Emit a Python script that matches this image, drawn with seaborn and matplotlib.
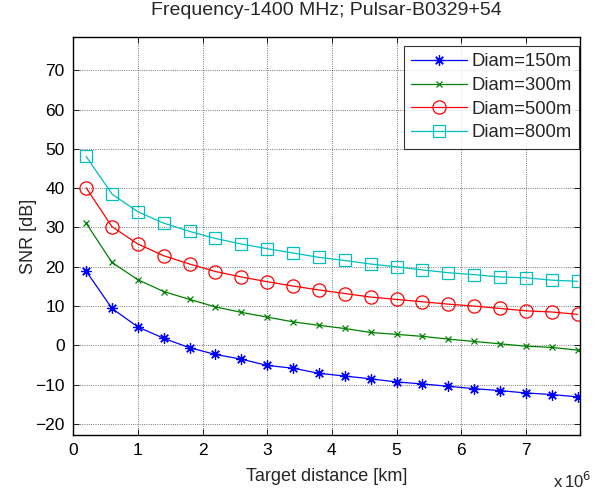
import matplotlib
matplotlib.use("Agg")
import matplotlib.pyplot as plt
import numpy as np
import pandas as pd
import seaborn as sns
from matplotlib.ticker import FuncFormatter

# data
distance_m = [0.2e6, 0.6e6, 1.0e6, 1.4e6, 1.8e6, 2.2e6, 2.6e6, 3.0e6, 3.4e6, 3.8e6,
              4.2e6, 4.6e6, 5.0e6, 5.4e6, 5.8e6, 6.2e6, 6.6e6, 7.0e6, 7.4e6, 7.8e6]
snr_150 = [18.9, 9.4, 4.7, 1.8, -0.6, -2.3, -3.5, -5.1, -5.8, -7.1,
           -7.8, -8.5, -9.3, -9.8, -10.4, -11.0, -11.5, -12.1, -12.5, -13.1]
snr_300 = [31.1, 21.1, 16.7, 13.7, 11.7, 9.8, 8.4, 7.2, 6.0, 5.1,
           4.3, 3.3, 2.8, 2.3, 1.6, 1.0, 0.4, -0.2, -0.5, -1.2]
snr_500 = [40.1, 30.2, 25.8, 22.8, 20.7, 18.8, 17.4, 16.2, 15.1, 14.1,
           13.2, 12.3, 11.7, 11.1, 10.5, 10.0, 9.4, 8.8, 8.5, 7.9]
snr_800 = [48.1, 38.5, 34.0, 31.1, 29.0, 27.2, 25.8, 24.6, 23.5, 22.4,
           21.6, 20.7, 20.0, 19.2, 18.5, 18.0, 17.4, 17.2, 16.6, 16.3]

labels = ["Diam=150m", "Diam=300m", "Diam=500m", "Diam=800m"]

sns.set_theme(style="ticks")
plt.rcParams["font.family"] = ["Liberation Sans", "DejaVu Sans"]
plt.rcParams["font.size"] = 12

fig = plt.figure(figsize=(5.95, 4.91), dpi=100)
ax = fig.add_axes([0.123, 0.114, 0.851, 0.811])

# matlab-like markers: '*' asterisk, 'x', hollow 'o', hollow 's'
styles = [
    (snr_150, "#0000ff", (8, 2, 0), 7.5, "#0000ff"),
    (snr_300, "#008000", "x", 4.5, "#008000"),
    (snr_500, "#ff0000", "o", 9.5, "none"),
    (snr_800, "#00bfbf", "s", 9, "none"),
]

for (vals, col, mk, ms, fc), lab in zip(styles, labels):
    df = pd.DataFrame({"x": distance_m, "y": vals})
    sns.lineplot(data=df, x="x", y="y", ax=ax, color=col, marker=mk,
                 markersize=ms, markerfacecolor=fc, markeredgecolor=col,
                 markeredgewidth=0.9, linewidth=0.9, label=lab)

ax.set_xlim(0, 7.83e6)
ax.set_ylim(-22.8, 78.5)
ax.set_xticks(np.arange(0, 8) * 1e6)
ax.set_yticks(np.arange(-20, 71, 10))
ax.xaxis.set_major_formatter(FuncFormatter(lambda v, p: "%d" % round(v / 1e6)))

ax.grid(True, color="black", linestyle=":", linewidth=0.6, alpha=0.7)
ax.tick_params(direction="in", top=True, right=True, length=4, width=0.6,
               labelsize=12.5, colors="black", pad=6)
for s in ax.spines.values():
    s.set_color("black")
    s.set_linewidth(1.0)

ax.set_xlabel("Target distance [km]", fontsize=13, labelpad=7)
ax.set_ylabel("SNR [dB]", fontsize=13, labelpad=-1)
ax.set_title("Frequency-1400 MHz; Pulsar-B0329+54", fontsize=14, pad=16)
fig.text(0.929, 0.006, r"x$\,$10$^{6}$", fontsize=12, ha="left", va="baseline")

leg = ax.legend(loc="upper right", bbox_to_anchor=(0.999, 0.977), borderaxespad=0,
                fontsize=13.3, handlelength=3.0, frameon=True, fancybox=False,
                labelspacing=0.36, borderpad=0.4, handletextpad=0.25)
leg.get_frame().set_edgecolor("black")
leg.get_frame().set_linewidth(0.8)

fig.savefig("out.png", dpi=100)
